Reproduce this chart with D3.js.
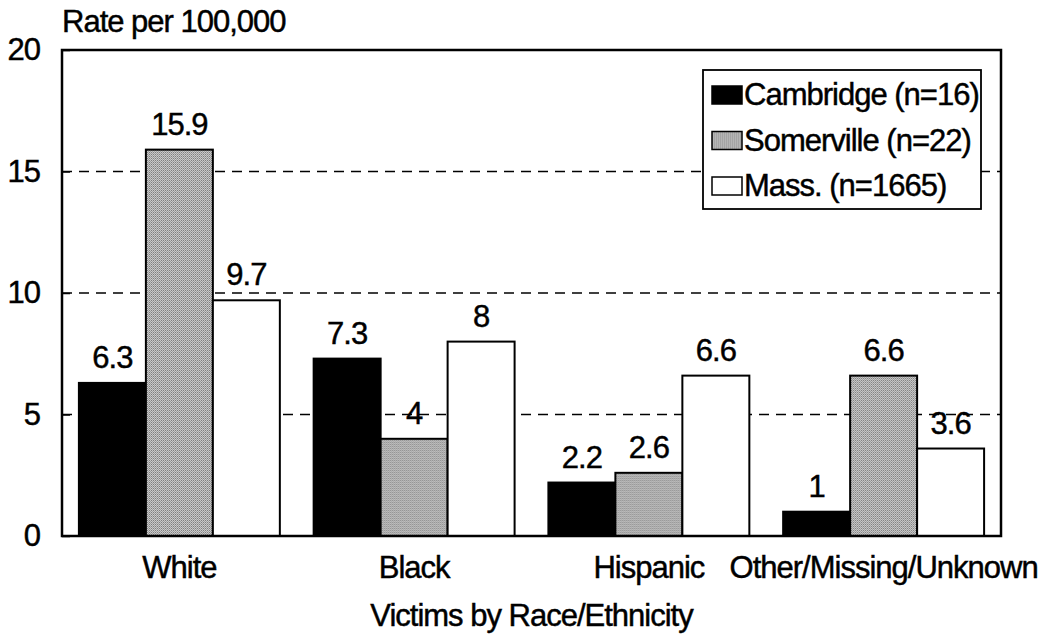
<!DOCTYPE html>
<html>
<head>
<meta charset="utf-8">
<script src="https://cdn.jsdelivr.net/npm/d3@7"></script>
<style>
  html, body { margin: 0; padding: 0; background: #fff; }
  svg text { font-family: Arial, "Liberation Sans", sans-serif; fill: #000; stroke: #000; stroke-width: 0.45px; letter-spacing: -1px; }
</style>
</head>
<body>
<svg id="chart" width="1044" height="636"></svg>
<script>
// Homicide victim rates by race/ethnicity
const categories = ["White", "Black", "Hispanic", "Other/Missing/Unknown"];
const seriesNames = ["Cambridge (n=16)", "Somerville (n=22)", "Mass. (n=1665)"];
const cambridge = [6.3, 7.3, 2.2, 1];
const somerville = [15.9, 4, 2.6, 6.6];
const mass = [9.7, 8, 6.6, 3.6];
const yTicks = [0, 5, 10, 15, 20];
const yTitle = "Rate per 100,000";
const xTitle = "Victims by Race/Ethnicity";

const seriesValues = [cambridge, somerville, mass];
const seriesFill = ["#000", "url(#dither)", "#fff"];

const svg = d3.select("#chart");
const margin = { left: 62, right: 43, top: 50, bottom: 100 };
const W = 1044, H = 636;
const plotW = W - margin.left - margin.right;
const plotH = H - margin.top - margin.bottom;
const FS = 31;

// gray dither fill
const defs = svg.append("defs");
const pat = defs.append("pattern").attr("id", "dither")
  .attr("width", 2).attr("height", 2).attr("patternUnits", "userSpaceOnUse");
pat.append("rect").attr("width", 2).attr("height", 2).attr("fill", "#d0d0d0");
pat.append("rect").attr("width", 1).attr("height", 1).attr("fill", "#777");
pat.append("rect").attr("x", 1).attr("y", 1).attr("width", 1).attr("height", 1).attr("fill", "#999");

const g = svg.append("g").attr("transform", `translate(${margin.left},${margin.top})`);

const x0 = d3.scaleBand().domain(categories).range([0, plotW])
  .paddingInner(0.144).paddingOuter(0.072);
const x1 = d3.scaleBand().domain(d3.range(seriesNames.length)).range([0, x0.bandwidth()]);
const y = d3.scaleLinear().domain([0, 20]).range([plotH, 0]);

// dashed gridlines
g.append("g").selectAll("line").data(yTicks.filter(t => t > 0 && t < 20)).join("line")
  .attr("x1", 0).attr("x2", plotW)
  .attr("y1", d => y(d)).attr("y2", d => y(d))
  .attr("stroke", "#000").attr("stroke-width", 1.5)
  .attr("stroke-dasharray", "10,7");

// y axis labels and inner ticks
const yAxis = d3.axisLeft(y).tickValues(yTicks).tickSize(-8).tickPadding(22);
const ya = g.append("g").call(yAxis);
ya.select(".domain").remove();
ya.selectAll(".tick line").attr("stroke", "#000").attr("stroke-width", 1.5);
ya.selectAll(".tick text").attr("font-size", FS).attr("fill", "#000")
  .style("font-family", "Arial, 'Liberation Sans', sans-serif");

// bars
const groups = g.append("g").selectAll("g").data(categories).join("g")
  .attr("transform", d => `translate(${x0(d)},0)`);

groups.selectAll("rect").data((c, ci) => seriesValues.map((vals, si) => ({ si, v: vals[ci] })))
  .join("rect")
  .attr("x", d => x1(d.si))
  .attr("width", x1.bandwidth())
  .attr("y", d => y(d.v))
  .attr("height", d => plotH - y(d.v))
  .attr("fill", d => seriesFill[d.si])
  .attr("stroke", "#000").attr("stroke-width", 2);

// value labels
groups.selectAll("text.val").data((c, ci) => seriesValues.map((vals, si) => ({ si, v: vals[ci] })))
  .join("text").attr("class", "val")
  .attr("x", d => x1(d.si) + x1.bandwidth() / 2)
  .attr("y", d => y(d.v) - 15)
  .attr("text-anchor", "middle")
  .attr("font-size", FS)
  .text(d => d.v);

// plot frame
g.append("rect").attr("x", 0).attr("y", 0).attr("width", plotW).attr("height", plotH)
  .attr("fill", "none").attr("stroke", "#000").attr("stroke-width", 2.5);

// x category labels
const xAxis = d3.axisBottom(x0).tickSize(0).tickPadding(0);
const xa = g.append("g").attr("transform", `translate(0,${plotH})`).call(xAxis);
xa.select(".domain").remove();
xa.selectAll(".tick text").attr("font-size", FS).attr("fill", "#000")
  .attr("dy", null).attr("y", 42)
  .style("font-family", "Arial, 'Liberation Sans', sans-serif");

// titles
svg.append("text").attr("x", 62).attr("y", 32).attr("font-size", FS).text(yTitle);
svg.append("text").attr("x", margin.left + plotW / 2).attr("y", 626)
  .attr("text-anchor", "middle").attr("font-size", FS).text(xTitle);

// legend
const lg = svg.append("g").attr("transform", "translate(703,70)");
lg.append("rect").attr("width", 278).attr("height", 139)
  .attr("fill", "#fff").attr("stroke", "#000").attr("stroke-width", 1.8);
const rows = lg.selectAll("g.row").data(seriesNames).join("g").attr("class", "row")
  .attr("transform", (d, i) => `translate(9,${25 + i * 45.5})`);
rows.append("rect").attr("x", 0).attr("y", -9).attr("width", 30).attr("height", 18)
  .attr("fill", (d, i) => seriesFill[i]).attr("stroke", "#000").attr("stroke-width", 1.5);
rows.append("text").attr("x", 32).attr("y", 10).attr("font-size", FS).text(d => d);
</script>
</body>
</html>
